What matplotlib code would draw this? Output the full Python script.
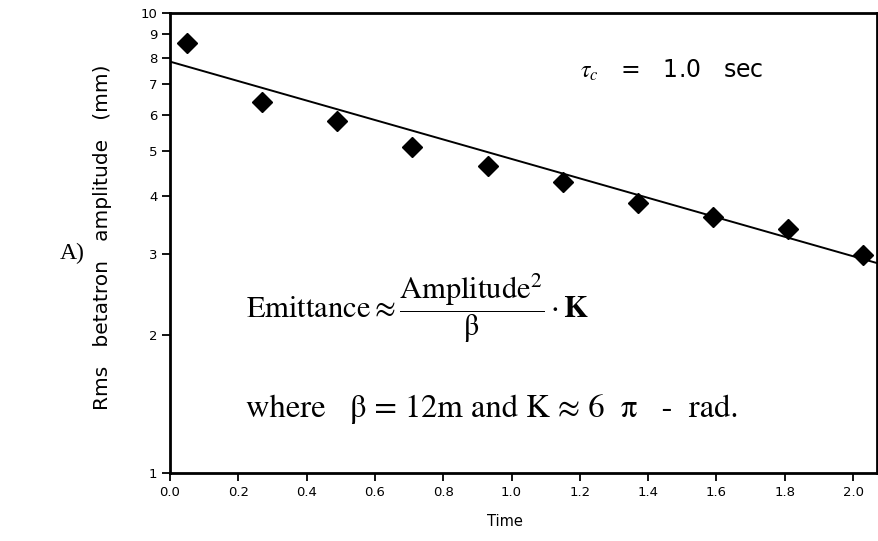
import numpy as np
import matplotlib
matplotlib.use("Agg")
import matplotlib.pyplot as plt
from matplotlib.ticker import FixedLocator, NullLocator

# data
time_s = [0.05, 0.27, 0.49, 0.71, 0.93, 1.15, 1.37, 1.59, 1.81, 2.03]
amp_mm = [8.62, 6.42, 5.83, 5.11, 4.65, 4.29, 3.86, 3.60, 3.40, 2.98]

# fitted exponential (straight on log axis), end points
fit_t = [0.0, 2.07]
fit_amp = [7.84, 2.86]

x_ticks = [0.0, 0.2, 0.4, 0.6, 0.8, 1.0, 1.2, 1.4, 1.6, 1.8, 2.0]
x_labels = ["0.0", "0.2", "0.4", "0.6", "0.8", "1.0", "1.2", "1.4", "1.6", "1.8", "2.0"]
y_ticks = [1, 2, 3, 4, 5, 6, 7, 8, 9, 10]
y_labels = [str(v) for v in y_ticks]

plt.rcParams['mathtext.fontset'] = 'stix'
W, H = 879, 541
fig = plt.figure(figsize=(W / 100, H / 100), dpi=100)
ax = fig.add_axes([170 / W, 1 - 473 / H, 707 / W, 460 / H])

ax.set_yscale('log')
ax.plot(fit_t, fit_amp, color='black', lw=1.4)
ax.plot(time_s, amp_mm, 'D', color='black', ms=10)

ax.set_xlim(0, 2.07)
ax.set_ylim(1, 10)
ax.xaxis.set_major_locator(FixedLocator(x_ticks))
ax.set_xticklabels(x_labels)
ax.yaxis.set_major_locator(FixedLocator(y_ticks))
ax.yaxis.set_minor_locator(NullLocator())
ax.set_yticklabels(y_labels)
ax.tick_params(direction='out', length=6, width=1.3, labelsize=9.5, pad=3)
for s in ax.spines.values():
    s.set_linewidth(2)

# axis titles
fig.text(103 / W, 1 - 237 / H, "Rms   betatron   amplitude   (mm)", rotation=90,
         ha='center', va='center', fontsize=14.5)
fig.text(505 / W, 1 - 522 / H, "Time", ha='center', va='center', fontsize=10.5)
fig.text(60 / W, 1 - 253 / H, "A)", ha='left', va='center', fontsize=17,
         family='Liberation Serif')

# annotations
fig.text(580 / W, 1 - 70 / H, r"$\tau_c$   =   1.0   sec", ha='left', va='center',
         fontsize=17)
fig.text(246 / W, 1 - 308 / H,
         r"Emittance$\approx\dfrac{\mathrm{Amplitude}^2}{\mathrm{\beta}}\cdot\mathbf{K}$",
         ha='left', va='center', fontsize=22, family='STIXGeneral')
fig.text(246 / W, 1 - 409 / H,
         "where   β = 12m and K ≈ 6  π   -  rad.",
         ha='left', va='center', fontsize=23.5, family='STIXGeneral')

fig.savefig("out.png", dpi=100)
